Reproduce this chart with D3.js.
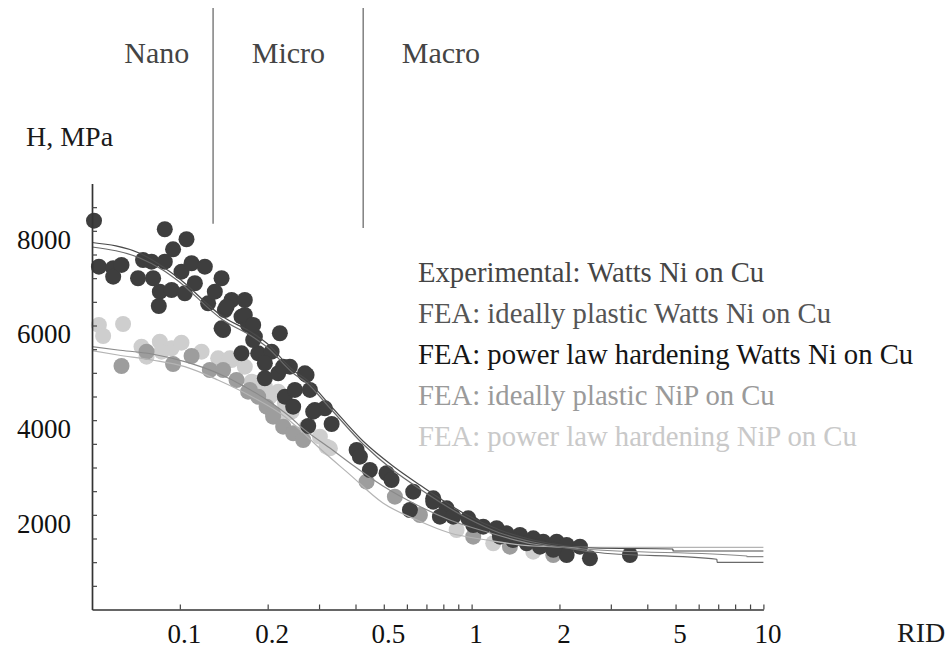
<!DOCTYPE html>
<html>
<head>
<meta charset="utf-8">
<script src="https://cdn.jsdelivr.net/npm/d3@7"></script>
<style>
  html, body { margin: 0; padding: 0; background: #fff; }
  svg { display: block; }
  svg text { font-family: "Liberation Serif", "LiberationSerif", Tinos, "Times New Roman", Times, "DejaVu Serif", serif !important; }
</style>
</head>
<body>
<svg id="chart" width="949" height="648"></svg>
<script>
// ---- data: hardness H (MPa) against relative indentation depth RID ----

// experimental points, Watts Ni on Cu  [RID, H]
const wattsExp = [
  [0.0508, 8215], [0.0528, 7243], [0.0591, 7209], [0.0591, 7031], [0.0631, 7279],
  [0.0719, 6998], [0.0748, 7384], [0.0800, 7348], [0.0810, 6998], [0.0888, 8033],
  [0.1054, 7822], [0.0948, 7610], [0.0888, 7348], [0.0854, 6715], [0.0847, 6412],
  [0.0937, 6750], [0.1013, 7137], [0.1097, 7315], [0.1218, 7243], [0.1126, 6892],
  [0.1040, 6681], [0.1250, 6469], [0.1390, 6998], [0.1318, 6715], [0.1504, 6539],
  [0.1670, 6539], [0.1390, 5941], [0.1427, 6328], [0.1627, 6186], [0.1714, 6011],
  [0.1808, 5764], [0.2202, 5836], [0.1627, 5413], [0.1856, 5413], [0.2063, 5447],
  [0.1956, 5202], [0.1956, 4885], [0.2173, 4990], [0.2383, 5130], [0.2683, 4990],
  [0.2291, 4496], [0.2479, 4638], [0.2446, 4285], [0.2791, 4638], [0.2903, 4215],
  [0.3142, 4251], [0.1784, 5694], [0.2260, 5130], [0.2864, 4179], [0.2754, 3877],
  [0.3313, 3919], [0.4035, 3370], [0.4141, 3228], [0.4481, 2947], [0.5111, 2878],
  [0.5317, 2736], [0.6307, 2489], [0.7387, 2349], [0.1446, 6398], [0.1670, 6222],
  [0.1784, 6011], [0.1407, 5905], [0.2719, 4955], [0.6145, 2102], [0.7387, 2278],
  [0.8209, 2138], [0.7787, 1961], [0.8647, 1961], [0.9736, 1927], [1.0128, 1785],
  [1.0959, 1749], [1.2183, 1716], [1.3183, 1610], [1.4643, 1574], [1.6263, 1504],
  [1.7599, 1432], [1.9565, 1432], [2.1169, 1363], [2.1169, 1151], [2.3518, 1327],
  [2.5445, 1082], [3.4887, 1151], [1.9049, 1260], [1.7147, 1327], [1.5439, 1399],
  [1.3855, 1468], [1.2503, 1538]
];

// NiP on Cu points, mid grey set  [RID, H]
const nipGrey = [
  [0.0631, 5145], [0.0769, 5447], [0.0948, 5187], [0.1097, 5356], [0.1267, 5060],
  [0.1407, 5060], [0.1564, 4849], [0.1714, 4602], [0.1856, 4496], [0.1983, 4285],
  [0.2088, 4145], [0.1738, 4638], [0.2088, 4073], [0.2260, 3862], [0.2446, 3723],
  [0.2647, 3581], [0.4365, 2700], [0.5458, 2383], [0.6650, 1997], [1.0128, 1538],
  [1.3530, 1327], [1.9049, 1151]
];

// NiP on Cu points, light grey set  [RID, H]
const nipLight = [
  [0.0528, 6011], [0.0639, 6032], [0.0546, 5778], [0.0739, 5552], [0.0854, 5658],
  [0.0937, 5519], [0.1013, 5637], [0.0769, 5341], [0.0866, 5447], [0.1187, 5447],
  [0.1353, 5307], [0.1504, 5271], [0.1670, 5130], [0.1762, 4813], [0.1956, 4707],
  [0.2173, 4602], [0.2291, 4357], [0.2415, 4179], [0.1484, 5307], [0.1833, 4779],
  [0.2035, 4496], [0.2322, 4145], [0.2719, 3862], [0.3020, 3651], [0.3268, 3406],
  [0.3184, 3440], [0.8883, 1680], [1.1862, 1399], [1.6263, 1221]
];

// FEA curves  [RID, H]
const feaWattsPlastic = [
  [0.05, 7659], [0.0729, 7426], [0.0874, 7173], [0.0977, 6962], [0.1404, 6117],
  [0.1780, 5757], [0.1987, 5546], [0.2440, 4997], [0.2726, 4786], [0.3268, 4257],
  [0.4241, 3497], [0.5373, 2947], [0.6650, 2546], [0.9636, 1933], [1.2503, 1616],
  [1.6235, 1426], [2.1218, 1299], [2.6048, 1215], [6.93, 1061], [6.94, 997], [10, 997]
];
const feaWattsPower = [
  [0.05, 7754], [0.0729, 7526], [0.0874, 7243], [0.0977, 7031], [0.1404, 6186],
  [0.1780, 5836], [0.1987, 5624], [0.2440, 5060], [0.2726, 4849], [0.3268, 4321],
  [0.4241, 3560], [0.5373, 3032], [0.6650, 2630], [0.9636, 1997], [1.2503, 1680],
  [1.6235, 1468], [2.1218, 1342], [2.6048, 1299], [4.8978, 1278], [4.90, 1236], [10, 1236]
];
const feaNipPlastic = [
  [0.05, 5552], [0.0613, 5483], [0.0802, 5398], [0.1040, 5236], [0.1350, 4990],
  [0.1670, 4707], [0.2068, 4357], [0.2440, 4020], [0.2579, 3880], [0.3268, 3412],
  [0.3826, 3095], [0.4966, 2609], [0.6494, 2208], [0.8426, 1891], [1.1285, 1637],
  [1.6235, 1384], [2.4076, 1278], [8.78, 1130], [8.79, 1115], [10, 1115]
];
const feaNipPower = [
  [0.05, 5468], [0.0613, 5377], [0.0802, 5271], [0.1040, 5130], [0.1350, 4849],
  [0.1766, 4496], [0.2291, 4073], [0.2579, 3800], [0.3020, 3400], [0.3826, 2850],
  [0.4966, 2250], [0.6494, 1891], [0.8426, 1616], [1.1285, 1468], [1.6235, 1342],
  [2.4076, 1314], [10, 1314]
];

// axis ticks and labels
const xMajorTicks = [0.1, 0.2, 0.5, 1, 2, 5, 10];
const xMinorTicks = [0.3, 0.4, 0.6, 0.7, 0.8, 0.9, 3, 4, 6, 7, 8, 9];
const yTickStep = 500;
const yLabelTicks = [2000, 4000, 6000, 8000];

// indentation-scale regions
const regionBounds = [0.13, 0.425];
const regionNames = [
  { name: "Nano", at: 0.0834 },
  { name: "Micro", at: 0.2355 },
  { name: "Macro", at: 0.785 }
];

const legendItems = [
  { text: "Experimental: Watts Ni on Cu", color: "#454545" },
  { text: "FEA: ideally plastic Watts Ni on Cu", color: "#555555" },
  { text: "FEA: power law hardening Watts Ni on Cu", color: "#151515" },
  { text: "FEA: ideally plastic NiP on Cu", color: "#9a9a9a" },
  { text: "FEA: power law hardening NiP on Cu", color: "#c9c9c9" }
];

const serif = "'Liberation Serif', 'Times New Roman', 'DejaVu Serif', serif";

// ---- drawing ----
const svg = d3.select("#chart");
svg.append("rect").attr("width", 949).attr("height", 648).attr("fill", "#fff");

const x = d3.scaleLog().domain([0.05, 10]).range([92, 763.4]);
const y = d3.scaleLinear().domain([0, 9000]).range([609.5, 183.5]);

// points
const dotR = 8;
function drawDots(data, fill) {
  svg.append("g").selectAll("circle").data(data).join("circle")
    .attr("cx", d => x(d[0]))
    .attr("cy", d => y(d[1]))
    .attr("r", dotR)
    .attr("fill", fill);
}
drawDots(nipLight, "#cecece");
drawDots(nipGrey, "#9d9d9d");
drawDots(wattsExp, "#3e3e3e");

// FEA lines
const line = d3.line().x(d => x(d[0])).y(d => y(d[1])).curve(d3.curveMonotoneX);
const curves = [
  { data: feaNipPower, color: "#b4b4b4" },
  { data: feaNipPlastic, color: "#8a8a8a" },
  { data: feaWattsPlastic, color: "#6a6a6a" },
  { data: feaWattsPower, color: "#4a4a4a" }
];
curves.forEach(c => {
  svg.append("path").datum(c.data)
    .attr("d", line)
    .attr("fill", "none")
    .attr("stroke", c.color)
    .attr("stroke-width", 1.2);
});

// x axis
const xAxis = d3.axisBottom(x)
  .tickValues(xMajorTicks.concat(xMinorTicks))
  .tickSizeInner(-5)
  .tickSizeOuter(0)
  .tickFormat(d => xMajorTicks.includes(d) ? d3.format("~g")(d) : "");
const gx = svg.append("g").attr("transform", `translate(0,${y(0)})`).call(xAxis)
  .attr("font-family", serif);
gx.select(".domain").attr("stroke", "#333").attr("stroke-width", 1.7);
gx.selectAll(".tick line").attr("stroke", "#444").attr("stroke-width", 1.2);
gx.selectAll(".tick text")
  .attr("y", 33.5).attr("dy", 0).attr("dx", 4)
  .attr("font-size", 27).attr("fill", "#111");

// y axis
const yTicks = d3.range(yTickStep, 9000, yTickStep);
const yAxis = d3.axisLeft(y)
  .tickValues(yTicks)
  .tickSizeInner(-5)
  .tickSizeOuter(0)
  .tickFormat(d => yLabelTicks.includes(d) ? String(d) : "");
const gy = svg.append("g").attr("transform", `translate(${x(0.05)},0)`).call(yAxis)
  .attr("font-family", serif);
gy.select(".domain").attr("stroke", "#333").attr("stroke-width", 1.7);
gy.selectAll(".tick line").attr("stroke", "#444").attr("stroke-width", 1.2);
gy.selectAll(".tick text")
  .attr("x", -21).attr("y", 8).attr("dy", "0.34em")
  .attr("font-size", 27).attr("fill", "#111");

// axis titles
svg.append("text").attr("x", 26).attr("y", 146).attr("font-family", serif)
  .attr("font-size", 28).attr("fill", "#1a1a1a").text("H, MPa");
svg.append("text").attr("x", 897).attr("y", 642).attr("font-family", serif)
  .attr("font-size", 28).attr("fill", "#1a1a1a").text("RID");

// region separators and names
const sepBottoms = [8150, 8060];
svg.append("g").selectAll("line").data(regionBounds).join("line")
  .attr("x1", d => x(d)).attr("x2", d => x(d))
  .attr("y1", 8).attr("y2", (d, i) => y(sepBottoms[i]))
  .attr("stroke", "#777").attr("stroke-width", 1.4);
svg.append("g").selectAll("text").data(regionNames).join("text")
  .attr("x", d => x(d.at)).attr("y", 63)
  .attr("text-anchor", "middle").attr("font-family", serif)
  .attr("font-size", 30).attr("fill", "#444")
  .text(d => d.name);

// legend
svg.append("g").selectAll("text").data(legendItems).join("text")
  .attr("x", 418).attr("y", (d, i) => 282 + i * 41)
  .attr("font-family", serif)
  .attr("font-size", 28.7).attr("fill", d => d.color)
  .text(d => d.text);
</script>
</body>
</html>
